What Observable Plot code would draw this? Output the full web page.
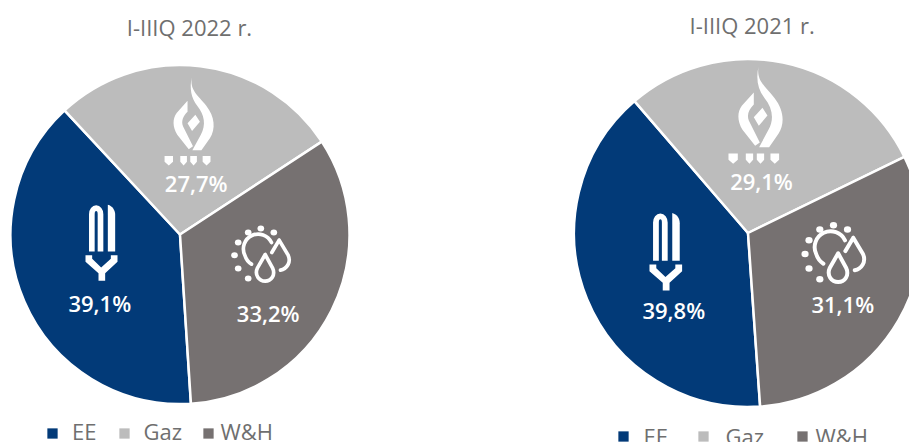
<!DOCTYPE html>
<html>
<head>
<meta charset="utf-8">
<script src="https://cdn.jsdelivr.net/npm/d3@7"></script>
<script src="https://cdn.jsdelivr.net/npm/@observablehq/plot@0.6"></script>
<style>
html,body{margin:0;padding:0;background:#fff;overflow:hidden}
svg{display:block}
</style>
</head>
<body>
<div id="chart"></div>
<script>
// Data
const categories = ["EE", "Gaz", "W&H"];
const years = ["I-IIIQ 2022 r.", "I-IIIQ 2021 r."];
const values2022 = [39.1, 27.7, 33.2];
const values2021 = [39.8, 29.1, 31.1];
const colors = ["#023a78", "#bcbcbc", "#767171"];

// Layout of the two panels
const panels = [
  {title: years[0], values: values2022, cx: 180, cy: 234.5, r: 169.5, start: 176.3,
   titleAt: [189, 28],
   labelAt: [[99.3, 304], [195.7, 184.3], [267.7, 314.3]],
   legendSquares: [52, 124, 208], legendTexts: [71.5, 143, 220], legendY: 433, legendTextY: 432,
   icons: {flame: [189.3, 120.4, .907], bulb: [101, 242, 1], sun: [261, 253, 1]}},
  {title: years[1], values: values2021, cx: 748, cy: 233, r: 174, start: 176,
   titleAt: [751.7, 26],
   labelAt: [[673.3, 311.7], [761, 182.7], [842.3, 305]],
   legendSquares: [623, 703, 802], legendTexts: [643, 725, 815], legendY: 436, legendTextY: 437,
   icons: {flame: [755.8, 114.2, 1], bulb: [665.3, 251, 1.02], sun: [833.7, 251.7, 1.08]}}
];

// Icons (white pictograms inside the slices)
const svgUri = (w, h, vb, body) => "data:image/svg+xml;charset=utf-8," + encodeURIComponent(
  `<svg xmlns="http://www.w3.org/2000/svg" width="${w}" height="${h}" viewBox="${vb}">${body}</svg>`);
const shield = (x, w) => `M${x - w} 459h${2 * w}v19L${x} 490L${x - w} 478Z`;
const flameBody = `<path fill="#fff" d="M594 198C588 242 612 254 642 292C670 328 674 368 654 400L626 440L596 440L624 388C642 355 636 322 612 292C592 266 586 235 594 198Z
M580 276L580 312C566 326 558 342 565 360L598 426L584 436L546 388C530 362 530 335 544 316Z
M606 322L621 345L595 376L580 350Z
${shield(518, 14)}${shield(567, 11)}${shield(600, 11)}${shield(643, 13)}"/>`;
const bulbBody = `<g fill="#fff"><path fill="none" stroke="#fff" stroke-width="17" d="M90 182V70C90 46 116 46 116 70V182"/>
<path d="M138 42C152 46 160 58 160 72V182H138Z"/>
<path d="M71 193H91V204L118 230L147 204V193H167V213L130 247V270H110V247L71 213Z"/></g>`;
const rays = [[123,50],[85,62],[162,62],[55,92],[44,130],[55,170],[85,200]];
const sunBody = `<g fill="none" stroke="#fff" stroke-width="11" stroke-linecap="round" stroke-linejoin="round">
<path d="M155 92A42 42 0 0 0 75 130C78 140 84 150 95 157"/>
<path d="M136 128L113 168C103 190 118 208 136 208C154 208 168 190 158 168Z"/>
<path d="M178 85L156 122M178 85L205 130C215 152 200 172 182 175"/></g>
<g fill="#fff">${rays.map(([x, y]) => `<ellipse cx="${x}" cy="${y}" rx="10" ry="9"/>`).join("")}</g>`;
const iconDefs = {
  flame: {w: 58.3, h: 101.7, src: svgUri(175, 305, "500 190 175 305", flameBody)},
  bulb: {w: 36, h: 80, src: svgUri(108, 240, "65 35 108 240", bulbBody)},
  sun: {w: 63.3, h: 60, src: svgUri(190, 180, "30 35 190 180", sunBody)}
};
const iconRows = panels.flatMap(p => Object.entries(p.icons).map(([k, [x, y, s]]) => ({
  x, y, width: iconDefs[k].w * s, height: iconDefs[k].h * s, src: iconDefs[k].src
})));

const labelRows = panels.flatMap(p => p.values.map((v, i) => ({
  text: v.toFixed(1).replace(".", ",") + "%", x: p.labelAt[i][0], y: p.labelAt[i][1]
})));
const titleRows = panels.map(p => ({text: p.title, x: p.titleAt[0], y: p.titleAt[1]}));
const legendSquares = panels.flatMap(p => categories.map((c, i) => ({cat: c, x: p.legendSquares[i], y: p.legendY})));
const legendTexts = panels.flatMap(p => categories.map((c, i) => ({text: c, x: p.legendTexts[i], y: p.legendTextY})));

// Pie slices, positioned through the plot's x, y and color scales
function pies(index, {x, y, color}) {
  const g = d3.create("svg:g").attr("aria-label", "pie");
  for (const p of panels) {
    const a0 = p.start * Math.PI / 180;
    const arcs = d3.pie().sort(null).value(d => d.value)
      .startAngle(a0 - 2 * Math.PI).endAngle(a0)(
        p.values.map((value, i) => ({cat: categories[i], value})));
    const arc = d3.arc().innerRadius(0).outerRadius(x(p.r) - x(0));
    g.append("g").attr("transform", `translate(${x(p.cx)},${y(p.cy)})`)
      .selectAll("path").data(arcs).join("path")
      .attr("d", arc).attr("fill", d => color(d.data.cat))
      .attr("stroke", "#fff").attr("stroke-width", 2.5).attr("stroke-linejoin", "round");
  }
  return g.node();
}

const font = "'Open Sans', sans-serif";
const chart = Plot.plot({
  width: 909, height: 442, margin: 0,
  style: {background: "#fff", fontFamily: font},
  x: {domain: [0, 909], range: [0, 909], axis: null},
  y: {domain: [0, 442], range: [0, 442], axis: null},
  color: {domain: categories, range: colors},
  marks: [
    pies,
    Plot.image(iconRows, {x: "x", y: "y", width: "width", height: "height", src: "src"}),
    Plot.text(labelRows, {x: "x", y: "y", text: "text", fill: "#fff", fontSize: 22, fontWeight: 600, fontFamily: font}),
    Plot.text(titleRows, {x: "x", y: "y", text: "text", fill: "#6f6f6f", fontSize: 22, fontFamily: font}),
    Plot.dot(legendSquares, {x: "x", y: "y", fill: "cat", symbol: "square", r: 5.8}),
    Plot.text(legendTexts, {x: "x", y: "y", text: "text", fill: "#6f6f6f", fontSize: 22, textAnchor: "start", fontFamily: font})
  ]
});
document.getElementById("chart").append(chart);
</script>
</body>
</html>
